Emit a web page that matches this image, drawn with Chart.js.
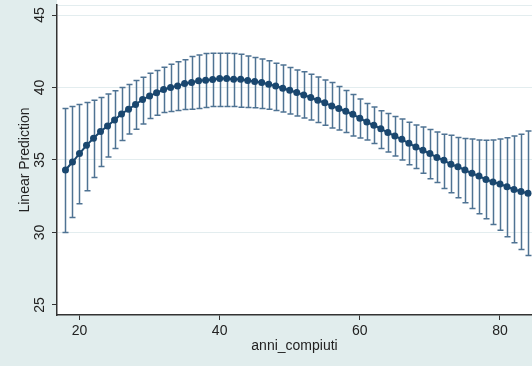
<!DOCTYPE html>
<html lang="it">
<head>
<meta charset="utf-8">
<title>Linear Prediction</title>
<script src="https://cdn.jsdelivr.net/npm/chart.js@4.4.1/dist/chart.umd.min.js"></script>
<style>
html, body { margin: 0; padding: 0; background: #e1eded; }
#wrap { width: 532px; height: 366px; }
</style>
</head>
<body>
<div id="wrap"><canvas id="myChart"></canvas></div>
<script>
// eta (anni compiuti), 18..84
const ages = [18,19,20,21,22,23,24,25,26,27,28,29,30,31,32,33,34,35,36,37,38,39,40,41,42,43,44,45,46,47,48,49,50,51,52,53,54,55,56,57,58,59,60,61,62,63,64,65,66,67,68,69,70,71,72,73,74,75,76,77,78,79,80,81,82,83,84];

// previsione lineare
const prediction = [
  34.31, 34.86, 35.44, 36.01, 36.50, 36.96, 37.35, 37.76, 38.18, 38.50, 38.83, 39.17, 39.42, 39.63, 39.86, 40.00, 40.11,
  40.28, 40.35, 40.46, 40.50, 40.55, 40.62, 40.62, 40.57, 40.57, 40.48, 40.41, 40.35, 40.23, 40.11, 39.95, 39.81, 39.65,
  39.49, 39.31, 39.12, 38.94, 38.73, 38.55, 38.36, 38.15, 37.88,
  37.62, 37.39, 37.16, 36.89, 36.66, 36.43, 36.15, 35.90, 35.67, 35.44, 35.18,
  34.98, 34.70, 34.54, 34.31, 34.08, 33.89, 33.66, 33.48, 33.34, 33.16, 32.97, 32.83, 32.70
];

// intervallo di confidenza 95%
const ciUpper = [
  38.55, 38.69, 38.83, 38.96, 39.12, 39.31, 39.56, 39.77, 40.00, 40.21, 40.48, 40.71, 40.99, 41.17, 41.40, 41.61, 41.77,
  41.91, 42.14, 42.25, 42.35, 42.37, 42.37, 42.37, 42.35, 42.30, 42.18, 42.07, 41.96, 41.84, 41.68, 41.56, 41.38, 41.20,
  41.08, 40.92, 40.73, 40.52, 40.35, 40.07, 39.80, 39.52, 39.20,
  38.90, 38.65, 38.40, 38.20, 38.00, 37.82, 37.60, 37.42, 37.27, 37.10, 36.93,
  36.77, 36.70, 36.56, 36.48, 36.45, 36.38, 36.36, 36.38, 36.45, 36.54, 36.66, 36.77, 37.00
];
const ciLower = [
  30.00, 31.04, 31.99, 32.88, 33.80, 34.56, 35.20, 35.80, 36.34, 36.80, 37.12, 37.48, 37.86, 38.09, 38.27, 38.35, 38.42,
  38.48, 38.50, 38.55, 38.62, 38.69, 38.69, 38.69, 38.69, 38.64, 38.62, 38.60, 38.55, 38.50, 38.41, 38.31, 38.18, 38.04,
  37.90, 37.76, 37.58, 37.39, 37.21, 37.07, 36.89, 36.66, 36.52,
  36.38, 36.13, 35.80, 35.55, 35.27, 35.00, 34.68, 34.42, 34.08, 33.71, 33.44,
  33.04, 32.74, 32.40, 32.05, 31.66, 31.29, 30.95, 30.56, 30.16, 29.71, 29.29, 28.83, 28.42
];

const xTicks = [20, 40, 60, 80];
const yTicks = [25, 30, 35, 40, 45];

const navy = '#1a476f';
const capColor = '#4f7393';
const gridColor = '#e3edef';
const axisColor = '#333333';
const font = '"Liberation Sans", Arial, sans-serif';

// sfondo: regione del grafico azzurrina, area del plot bianca
const background = {
  id: 'background',
  beforeDraw(chart) {
    const { ctx, chartArea } = chart;
    ctx.save();
    ctx.fillStyle = '#e1eded';
    ctx.fillRect(0, 0, chart.width, chart.height);
    ctx.fillStyle = '#ffffff';
    ctx.fillRect(chartArea.left, 0, chart.width - chartArea.left, chartArea.bottom);
    ctx.strokeStyle = gridColor;
    ctx.lineWidth = 1;
    ctx.beginPath();
    ctx.moveTo(chartArea.left, chartArea.top + 0.5);
    ctx.lineTo(chart.width, chartArea.top + 0.5);
    ctx.stroke();
    ctx.restore();
  }
};

// barre di errore (rcap)
const errorBars = {
  id: 'errorBars',
  beforeDatasetsDraw(chart) {
    const { ctx, scales: { x, y } } = chart;
    ctx.save();
    ctx.beginPath();
    ctx.rect(chart.chartArea.left, 0, chart.width - chart.chartArea.left, chart.chartArea.bottom);
    ctx.clip();
    ctx.strokeStyle = capColor;
    ctx.lineWidth = 1.5;
    ages.forEach((a, i) => {
      const px = Math.round(x.getPixelForValue(a)) + 0.5;
      const top = y.getPixelForValue(ciUpper[i]);
      const bot = y.getPixelForValue(ciLower[i]);
      ctx.beginPath();
      ctx.moveTo(px, top);
      ctx.lineTo(px, bot);
      ctx.moveTo(px - 3, top);
      ctx.lineTo(px + 3, top);
      ctx.moveTo(px - 3, bot);
      ctx.lineTo(px + 3, bot);
      ctx.stroke();
    });
    ctx.restore();
  }
};

// etichette verticali dell'asse y e titolo
const yLabels = {
  id: 'yLabels',
  afterDraw(chart) {
    const { ctx, chartArea, scales: { y } } = chart;
    ctx.save();
    ctx.fillStyle = '#222222';
    ctx.textAlign = 'center';
    ctx.textBaseline = 'middle';
    ctx.font = '14px ' + font;
    yTicks.forEach(v => {
      ctx.save();
      ctx.translate(40, y.getPixelForValue(v));
      ctx.rotate(-Math.PI / 2);
      ctx.fillText(String(v), 0, 0);
      ctx.restore();
    });
    ctx.translate(25, (chartArea.top + chartArea.bottom) / 2);
    ctx.rotate(-Math.PI / 2);
    ctx.fillText('Linear Prediction', 0, 0);
    ctx.restore();
  }
};

new Chart(document.getElementById('myChart'), {
  type: 'line',
  data: {
    datasets: [{
      data: ages.map((a, i) => ({ x: a, y: prediction[i] })),
      borderColor: navy,
      backgroundColor: navy,
      borderWidth: 2,
      pointRadius: 3.5,
      pointBorderWidth: 0,
      pointStyle: 'circle',
      tension: 0
    }]
  },
  options: {
    responsive: true,
    maintainAspectRatio: false,
    animation: false,
    events: [],
    layout: { autoPadding: false, padding: { top: 5, right: 0, left: 0, bottom: 0 } },
    plugins: { legend: { display: false }, tooltip: { enabled: false } },
    scales: {
      x: {
        type: 'linear',
        min: 16.79,
        max: 84.57,
        afterBuildTicks: s => { s.ticks = xTicks.map(v => ({ value: v })); },
        afterFit: s => { s.height = 51; s.paddingLeft = 0; s.paddingRight = 0; },
        grid: { drawOnChartArea: false, tickLength: 5, tickColor: axisColor, tickWidth: 1 },
        border: { color: axisColor, width: 1.5 },
        ticks: { color: '#222222', font: { size: 14, family: font }, padding: 3, maxRotation: 0 },
        title: { display: true, text: 'anni_compiuti', color: '#222222', font: { size: 14, family: font }, padding: { top: 0, bottom: 11 } }
      },
      y: {
        type: 'linear',
        min: 24.31,
        max: 45.69,
        afterBuildTicks: s => { s.ticks = yTicks.map(v => ({ value: v })); },
        afterFit: s => { s.width = 57; s.paddingTop = 0; s.paddingBottom = 0; },
        grid: {
          color: c => (c.tick && c.tick.value === 25 ? 'rgba(0,0,0,0)' : gridColor),
          lineWidth: 1,
          tickLength: 5,
          tickColor: axisColor
        },
        border: { color: axisColor, width: 1.5 },
        ticks: { display: false }
      }
    }
  },
  plugins: [background, errorBars, yLabels]
});
</script>
</body>
</html>
